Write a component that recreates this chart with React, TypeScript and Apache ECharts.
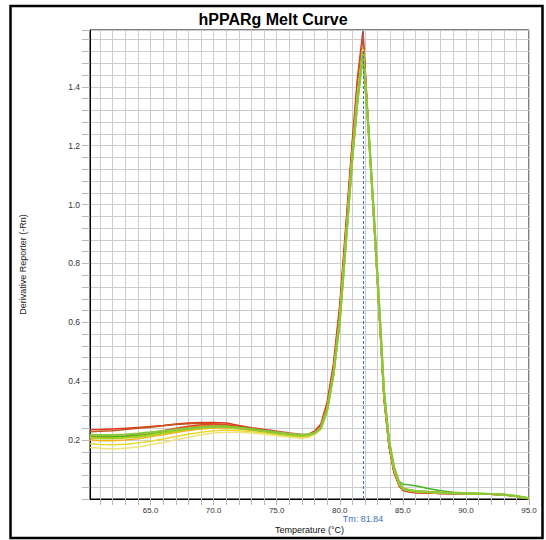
import { useEffect, useRef } from 'react';
import * as echarts from 'echarts';

// Shared temperature grid (°C) for every well
const temperatures = [
  60.2, 61, 62, 63, 64, 65, 66, 67, 68, 69, 70, 71, 72, 73, 74, 75, 76, 77, 77.5,
  78, 78.5, 79, 79.5, 80, 80.5, 81, 81.4, 81.84, 82.3, 82.7, 83.1, 83.5, 83.9, 84.3, 84.7,
  85, 85.5, 86, 87, 88, 89, 90, 91, 92, 93, 94, 95,
];

// Derivative reporter (-Rn) per well
const wellA1 = [
  0.235, 0.236, 0.238, 0.240, 0.243, 0.246, 0.250, 0.255, 0.258, 0.260, 0.260, 0.258, 0.250, 0.242, 0.236, 0.230, 0.224, 0.219, 0.220,
  0.230, 0.255, 0.330, 0.460, 0.660, 0.940, 1.220, 1.430, 1.590, 1.250, 0.960, 0.660, 0.350, 0.180, 0.090, 0.045,
  0.030, 0.024, 0.021, 0.020, 0.019, 0.019, 0.018, 0.018, 0.016, 0.014, 0.009, 0.002,
];
const wellA2 = [
  0.228, 0.230, 0.232, 0.236, 0.240, 0.244, 0.249, 0.253, 0.256, 0.257, 0.256, 0.252, 0.245, 0.238, 0.232, 0.226, 0.220, 0.216, 0.218,
  0.226, 0.250, 0.320, 0.450, 0.645, 0.930, 1.210, 1.410, 1.570, 1.240, 0.950, 0.650, 0.340, 0.180, 0.090, 0.045,
  0.030, 0.025, 0.022, 0.020, 0.019, 0.018, 0.018, 0.017, 0.016, 0.014, 0.009, 0.002,
];
const wellA3 = [
  0.212, 0.210, 0.210, 0.212, 0.216, 0.222, 0.230, 0.238, 0.244, 0.248, 0.250, 0.249, 0.244, 0.238, 0.232, 0.226, 0.220, 0.215, 0.216,
  0.224, 0.245, 0.312, 0.435, 0.630, 0.910, 1.190, 1.395, 1.555, 1.235, 0.955, 0.660, 0.350, 0.185, 0.095, 0.048,
  0.032, 0.026, 0.023, 0.021, 0.020, 0.019, 0.018, 0.017, 0.016, 0.014, 0.009, 0.002,
];
const wellA4 = [
  0.205, 0.207, 0.210, 0.214, 0.219, 0.225, 0.232, 0.240, 0.247, 0.252, 0.254, 0.252, 0.246, 0.240, 0.233, 0.226, 0.218, 0.212, 0.214,
  0.222, 0.242, 0.315, 0.440, 0.640, 0.920, 1.200, 1.405, 1.565, 1.240, 0.950, 0.650, 0.345, 0.180, 0.090, 0.046,
  0.031, 0.025, 0.022, 0.020, 0.019, 0.019, 0.018, 0.017, 0.016, 0.014, 0.009, 0.002,
];
const wellB1 = [
  0.200, 0.198, 0.198, 0.200, 0.205, 0.211, 0.218, 0.226, 0.233, 0.238, 0.241, 0.241, 0.238, 0.233, 0.228, 0.222, 0.216, 0.212, 0.214,
  0.222, 0.240, 0.305, 0.425, 0.615, 0.895, 1.175, 1.375, 1.540, 1.235, 0.955, 0.665, 0.360, 0.190, 0.100, 0.050,
  0.034, 0.028, 0.025, 0.023, 0.021, 0.020, 0.019, 0.018, 0.017, 0.015, 0.010, 0.002,
];
const wellB2 = [
  0.188, 0.185, 0.184, 0.186, 0.190, 0.196, 0.204, 0.212, 0.220, 0.227, 0.232, 0.234, 0.232, 0.228, 0.224, 0.218, 0.212, 0.208, 0.211,
  0.220, 0.238, 0.300, 0.420, 0.610, 0.890, 1.170, 1.370, 1.530, 1.235, 0.960, 0.670, 0.365, 0.195, 0.102, 0.052,
  0.035, 0.029, 0.026, 0.023, 0.021, 0.020, 0.019, 0.018, 0.017, 0.015, 0.010, 0.002,
];
const wellB3 = [
  0.175, 0.172, 0.170, 0.172, 0.177, 0.184, 0.192, 0.201, 0.210, 0.218, 0.224, 0.227, 0.227, 0.224, 0.220, 0.215, 0.210, 0.206, 0.209,
  0.218, 0.236, 0.298, 0.418, 0.605, 0.885, 1.165, 1.360, 1.525, 1.230, 0.960, 0.670, 0.365, 0.195, 0.102, 0.052,
  0.035, 0.029, 0.026, 0.023, 0.021, 0.020, 0.019, 0.018, 0.017, 0.015, 0.010, 0.002,
];
const wellB4 = [
  0.215, 0.213, 0.212, 0.213, 0.216, 0.221, 0.227, 0.233, 0.238, 0.243, 0.246, 0.247, 0.244, 0.239, 0.233, 0.227, 0.221, 0.217, 0.219,
  0.224, 0.240, 0.300, 0.420, 0.600, 0.870, 1.150, 1.340, 1.500, 1.240, 0.970, 0.680, 0.370, 0.200, 0.110, 0.060,
  0.050, 0.048, 0.045, 0.036, 0.028, 0.023, 0.020, 0.018, 0.017, 0.015, 0.010, 0.002,
];
const wellC1 = [
  0.208, 0.206, 0.206, 0.208, 0.212, 0.217, 0.224, 0.231, 0.237, 0.242, 0.245, 0.245, 0.241, 0.236, 0.230, 0.224, 0.218, 0.214, 0.217,
  0.223, 0.240, 0.302, 0.422, 0.605, 0.880, 1.160, 1.355, 1.515, 1.240, 0.965, 0.675, 0.368, 0.198, 0.106, 0.055,
  0.036, 0.030, 0.027, 0.024, 0.022, 0.020, 0.019, 0.018, 0.017, 0.015, 0.010, 0.002,
];
const wellC2 = [
  0.218, 0.217, 0.217, 0.219, 0.222, 0.226, 0.231, 0.236, 0.240, 0.244, 0.247, 0.246, 0.242, 0.237, 0.231, 0.226, 0.221, 0.218, 0.220,
  0.224, 0.242, 0.305, 0.425, 0.610, 0.885, 1.165, 1.360, 1.520, 1.240, 0.965, 0.675, 0.368, 0.198, 0.106, 0.055,
  0.036, 0.030, 0.027, 0.024, 0.022, 0.020, 0.019, 0.018, 0.017, 0.015, 0.010, 0.002,
];

const wells = [
  { name: 'A1', values: wellA1, color: '#e3321c', width: 1.5 },
  { name: 'A2', values: wellA2, color: '#c4561e', width: 1.5 },
  { name: 'A3', values: wellA3, color: '#f07a1a', width: 1.5 },
  { name: 'A4', values: wellA4, color: '#e04a28', width: 1.5 },
  { name: 'B1', values: wellB1, color: '#f2b21e', width: 1.5 },
  { name: 'B2', values: wellB2, color: '#e6da2e', width: 1.5 },
  { name: 'B3', values: wellB3, color: '#f0e27a', width: 1.5 },
  { name: 'B4', values: wellB4, color: '#46b41a', width: 1.5 },
  { name: 'C1', values: wellC1, color: '#a6d022', width: 2.2 },
  { name: 'C2', values: wellC2, color: '#8cc63c', width: 2.2 },
];

const meltTm = 81.84;

// Axis ticks and labels
const xGridTemps = [61, 62, 63, 64, 65, 66, 67, 68, 69, 70, 71, 72, 73, 74, 75, 76, 77, 78, 79, 80, 81, 82, 83, 84, 85, 86, 87, 88, 89, 90, 91, 92, 93, 94, 95];
const xLabelTemps = [65, 70, 75, 80, 85, 90, 95];

const FONT = '"Liberation Sans", Arial, sans-serif';

export default function App() {
  const ref = useRef<HTMLDivElement>(null);

  useEffect(() => {
    if (!ref.current) return;
    const chart = echarts.init(ref.current, undefined, { renderer: 'svg' });

    const series: any[] = wells.map((w) => ({
      name: w.name,
      type: 'line',
      data: temperatures.map((t, i) => [t, w.values[i]]),
      showSymbol: false,
      symbol: 'none',
      lineStyle: { color: w.color, width: w.width },
      itemStyle: { color: w.color },
      silent: true,
    }));

    // Melting temperature marker with its label under the axis
    series[series.length - 1].markLine = {
      silent: true,
      symbol: ['none', 'none'],
      data: [{ xAxis: meltTm }],
      lineStyle: { color: '#3d74b8', type: [3, 2], width: 1 },
      label: {
        show: true,
        position: 'start',
        distance: 15,
        formatter: 'Tm: ' + meltTm.toFixed(2),
        color: '#3a72b4',
        fontSize: 9,
        lineHeight: 9,
        fontFamily: FONT,
      },
    };

    chart.setOption({
      animation: false,
      backgroundColor: '#ffffff',
      title: {
        text: 'hPPARg Melt Curve',
        left: 'center',
        top: 6,
        textStyle: { fontFamily: FONT, fontSize: 16, fontWeight: 'bold', color: '#000' },
      },
      grid: {
        left: 90,
        top: 30,
        right: 17,
        bottom: 40,
        show: true,
        borderColor: '#000',
        borderWidth: 1,
        backgroundColor: '#fff',
      },
      xAxis: {
        type: 'value',
        min: 60.2,
        max: 95,
        name: 'Temperature (°C)',
        nameLocation: 'middle',
        nameGap: 26,
        nameTextStyle: { fontFamily: FONT, fontSize: 9, lineHeight: 10, color: '#111' },
        axisLine: { show: true, lineStyle: { color: '#000', width: 1 } },
        axisTick: { show: true, length: 6, lineStyle: { color: '#b8b8b8' }, customValues: xGridTemps },
        axisLabel: {
          customValues: xLabelTemps,
          formatter: (v: number) => v.toFixed(1),
          fontFamily: FONT,
          fontSize: 8,
          lineHeight: 8,
          color: '#333',
          margin: 7,
        },
        splitLine: { show: true, lineStyle: { color: '#cccccc', width: 1 } },
      },
      yAxis: {
        type: 'value',
        min: 0,
        max: 1.593,
        interval: 0.04,
        name: 'Derivative Reporter (-Rn)',
        nameLocation: 'middle',
        nameGap: 63,
        nameTextStyle: { fontFamily: FONT, fontSize: 9, color: '#222' },
        axisLine: { show: true, lineStyle: { color: '#000', width: 1 } },
        axisTick: { show: true, length: 8, lineStyle: { color: '#b8b8b8' } },
        axisLabel: {
          formatter: (v: number) => {
            const k = Math.round(v / 0.2);
            return Math.abs(v - k * 0.2) < 1e-6 && k >= 1 && k <= 7 ? (k * 0.2).toFixed(1) : '';
          },
          fontFamily: FONT,
          fontSize: 8.5,
          color: '#333',
          margin: 10,
        },
        splitLine: { show: true, lineStyle: { color: '#cccccc', width: 1 } },
      },
      graphic: [
        {
          type: 'rect',
          silent: true,
          z: 100,
          shape: { x: 10.5, y: 6, width: 532, height: 532 },
          style: { fill: 'none', stroke: '#000', lineWidth: 2.5 },
        },
      ],
      series,
    });

    return () => chart.dispose();
  }, []);

  return (
    <div
      ref={ref}
      style={{ position: 'absolute', left: 0, top: 0, width: 546, height: 540 }}
    />
  );
}
